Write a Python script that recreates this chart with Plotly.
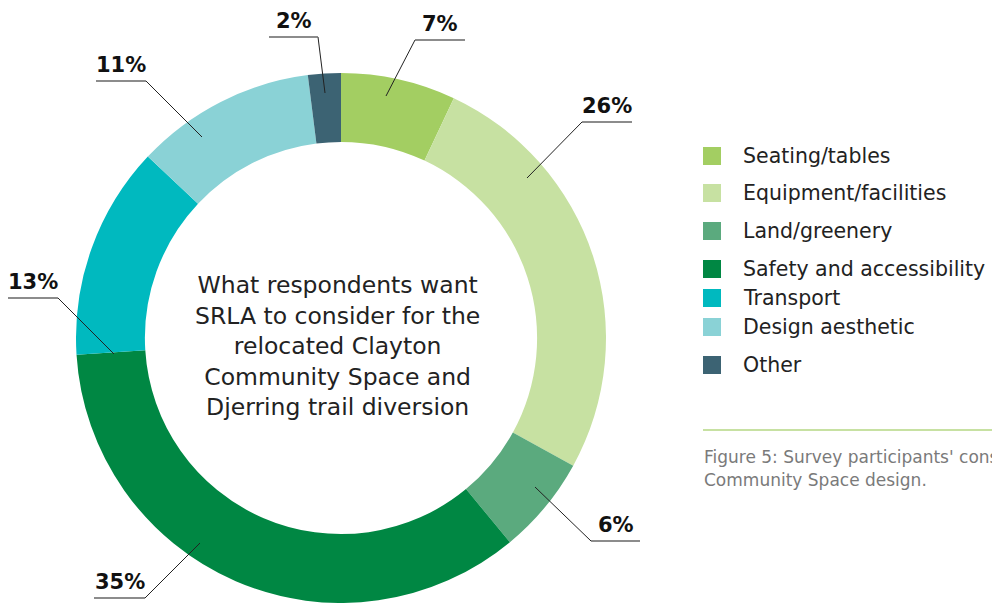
import plotly.graph_objects as go

# ---- data ----
categories = ["Seating/tables", "Equipment/facilities", "Land/greenery",
              "Safety and accessibility", "Transport", "Design aesthetic", "Other"]
percent_values = [7, 26, 6, 35, 13, 11, 2]
slice_colors = ["#A3CE62", "#C7E1A2", "#5BAA7E", "#008743", "#00B9BF", "#8AD2D6", "#3C6373"]
center_title = ("What respondents want<br>SRLA to consider for the<br>relocated Clayton<br>"
                "Community Space and<br>Djerring trail diversion")
caption_lines = ["Figure 5: Survey participants' considerations for the relocated Clayton",
                 "Community Space design."]

# ---- layout geometry (pixels) ----
W, H = 992, 603
MT = 73
PH = H - MT
FONT = "DejaVu Sans"


def px(x):
    return x / W


def py(y):
    return (H - y) / PH


# callout geometry per slice: start point on ring, elbow, horizontal end
callouts = [
    ((386, 96), (415, 40), 465),
    ((527, 178), (582, 122), 632),
    ((535, 487), (591, 541), 640),
    ((200, 543), (145, 598), 94),
    ((114, 354), (58, 298), 8),
    ((202, 137), (146, 81), 96),
    ((325, 93), (318, 37), 269),
]
legend_y = [156, 193, 231, 269, 298, 327, 365]

fig = go.Figure()
fig.add_trace(go.Pie(
    labels=categories,
    values=percent_values,
    sort=False,
    direction="clockwise",
    rotation=0,
    hole=0.74,
    marker=dict(colors=slice_colors, line=dict(width=0)),
    textinfo="none",
    hoverinfo="label+percent",
    showlegend=False,
    domain=dict(x=[px(76), px(606)], y=[0, 1]),
))

shapes = []
annotations = []
for val, (start, elbow, hend) in zip(percent_values, callouts):
    shapes.append(dict(type="line", xref="paper", yref="paper",
                       x0=px(start[0]), y0=py(start[1]), x1=px(elbow[0]), y1=py(elbow[1]),
                       line=dict(color="#222222", width=1)))
    shapes.append(dict(type="line", xref="paper", yref="paper",
                       x0=px(elbow[0]), y0=py(elbow[1]), x1=px(hend), y1=py(elbow[1]),
                       line=dict(color="#666666", width=1.5)))
    annotations.append(dict(x=px((elbow[0] + hend) / 2), y=py(elbow[1] - 16),
                            xref="paper", yref="paper", showarrow=False,
                            text=f"<b>{val}%</b>", xanchor="center", yanchor="middle",
                            font=dict(family=FONT, size=21, color="#111111")))

# manual legend
for cat, col, ly in zip(categories, slice_colors, legend_y):
    shapes.append(dict(type="rect", xref="paper", yref="paper",
                       x0=px(703), x1=px(721), y0=py(ly - 9), y1=py(ly + 9),
                       fillcolor=col, line=dict(width=0)))
    annotations.append(dict(x=px(741), y=py(ly), xref="paper", yref="paper",
                            showarrow=False, text=cat, xanchor="left", yanchor="middle",
                            font=dict(family=FONT, size=20.5, color="#222222")))

# separator line and caption
shapes.append(dict(type="line", xref="paper", yref="paper",
                   x0=px(703), x1=px(992), y0=py(430), y1=py(430),
                   line=dict(color="#C7E1A2", width=2)))
for i, line in enumerate(caption_lines):
    annotations.append(dict(x=px(702), y=py(457 + 23 * i), xref="paper", yref="paper",
                            showarrow=False, text=line, xanchor="left", yanchor="middle",
                            align="left",
                            font=dict(family=FONT, size=17, color="#7a7a7a")))

# centre title
annotations.append(dict(x=px(337), y=py(346), xref="paper", yref="paper",
                        showarrow=False, text=center_title, xanchor="center", yanchor="middle",
                        align="center",
                        font=dict(family=FONT, size=23.5, color="#222222")))

fig.update_layout(
    width=W, height=H,
    margin=dict(l=0, r=0, t=MT, b=0),
    paper_bgcolor="white", plot_bgcolor="white",
    shapes=shapes, annotations=annotations,
    showlegend=False,
)

fig.write_html("out.html", config={"displayModeBar": False},
               post_script="document.body.style.margin='0';")
